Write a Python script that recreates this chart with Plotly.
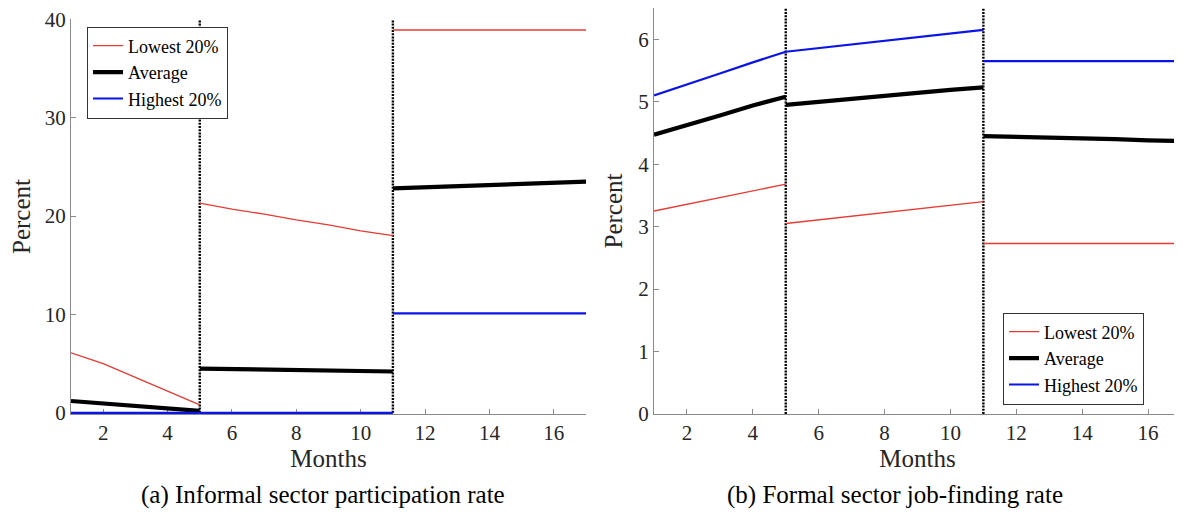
import plotly.graph_objects as go

# ---------------- data ----------------
# Panel (a): Informal sector participation rate
months_seg1 = [1, 2, 3, 4, 5]
months_seg2 = [5, 6, 7, 8, 9, 10, 11]
months_seg3 = [11, 12, 13, 14, 15, 16, 17]
break_months = [5, 11]

low_a1 = [6.1, 5.0, 3.6, 2.2, 0.8]
avg_a1 = [1.2, 0.95, 0.7, 0.45, 0.2]
high_a1 = [0.0, 0.0, 0.0, 0.0, 0.0]
low_a2 = [21.3, 20.7, 20.2, 19.6, 19.1, 18.5, 18.0]
avg_a2 = [4.5, 4.45, 4.4, 4.35, 4.3, 4.25, 4.2]
high_a2 = [0.0, 0.0, 0.0, 0.0, 0.0, 0.0, 0.0]
low_a3 = [38.9, 38.9, 38.9, 38.9, 38.9, 38.9, 38.9]
avg_a3 = [22.8, 22.9, 23.0, 23.1, 23.25, 23.35, 23.5]
high_a3 = [10.1, 10.1, 10.1, 10.1, 10.1, 10.1, 10.1]

# Panel (b): Formal sector job-finding rate
low_b1 = [3.25, 3.36, 3.47, 3.58, 3.68]
avg_b1 = [4.47, 4.62, 4.78, 4.94, 5.08]
high_b1 = [5.1, 5.27, 5.45, 5.63, 5.8]
low_b2 = [3.05, 3.11, 3.17, 3.23, 3.29, 3.35, 3.4]
avg_b2 = [4.95, 5.0, 5.05, 5.1, 5.15, 5.19, 5.23]
high_b2 = [5.8, 5.86, 5.92, 5.98, 6.04, 6.1, 6.15]
low_b3 = [2.73, 2.73, 2.73, 2.73, 2.73, 2.73, 2.73]
avg_b3 = [4.45, 4.44, 4.42, 4.41, 4.40, 4.38, 4.37]
high_b3 = [5.65, 5.65, 5.65, 5.65, 5.65, 5.65, 5.65]

series_names = ["Lowest 20%", "Average", "Highest 20%"]
x_ticks = [2, 4, 6, 8, 10, 12, 14, 16]
y_ticks_a = [0, 10, 20, 30, 40]
y_ticks_b = [0, 1, 2, 3, 4, 5, 6]
captions = ["(a) Informal sector participation rate", "(b) Formal sector job-finding rate"]

# ---------------- styling ----------------
FONT = "Liberation Serif"
TXT = "#262626"
AX = "#8a8a8a"
styles = [
    dict(color="#e83a34", width=1.3),
    dict(color="#000000", width=4.2),
    dict(color="#0a14e6", width=2.2),
]

fig = go.Figure()

panels = [
    ("x", "y", "legend", [(months_seg1, [low_a1, avg_a1, high_a1]),
                          (months_seg2, [low_a2, avg_a2, high_a2]),
                          (months_seg3, [low_a3, avg_a3, high_a3])]),
    ("x2", "y2", "legend2", [(months_seg1, [low_b1, avg_b1, high_b1]),
                             (months_seg2, [low_b2, avg_b2, high_b2]),
                             (months_seg3, [low_b3, avg_b3, high_b3])]),
]

# vertical dotted break lines (drawn first, series on top)
for xa, ya, top in [("x", "y", 40), ("x2", "y2", 6.5)]:
    for b in break_months:
        fig.add_trace(go.Scatter(
            x=[b, b], y=[0, top], mode="lines", xaxis=xa, yaxis=ya,
            line=dict(color="black", width=2.4, dash="2px,1.2px"), showlegend=False,
            hoverinfo="skip",
        ))

for xa, ya, leg, segs in panels:
    for k, name in enumerate(series_names):
        for si, (xs, vals) in enumerate(segs):
            fig.add_trace(go.Scatter(
                x=xs, y=vals[k], mode="lines", name=name,
                line=styles[k], xaxis=xa, yaxis=ya, legend=leg,
                showlegend=(si == 0), legendgroup=leg + name,
            ))

W, H = 1182, 519
OFF = 8  # page body margin in the browser


def px_x(p):
    return (p - OFF) / W


def px_y(p):
    return 1 - (p - OFF) / H


axis_common = dict(
    showline=True, linecolor=AX, linewidth=1, ticks="inside", ticklen=5,
    tickcolor=AX, showgrid=False, zeroline=False, mirror=False, automargin=False,
    layer="below traces", ticklabeloverflow="allow",
    tickfont=dict(family=FONT, size=21, color=TXT),
)
title_font = dict(family=FONT, size=25, color=TXT)
legend_common = dict(
    xanchor="left", yanchor="middle", bgcolor="white", bordercolor="#333333",
    borderwidth=1, font=dict(family=FONT, size=18, color="black"),
    tracegroupgap=0, itemwidth=30,
)

fig.update_layout(
    template="none",
    width=W, height=H,
    margin=dict(l=0, r=0, t=0, b=0, autoexpand=False),
    paper_bgcolor="white", plot_bgcolor="white",
    xaxis=dict(domain=[px_x(71), px_x(586)], range=[1, 17], tickvals=x_ticks, anchor="y",
               title=dict(text="Months", font=title_font, standoff=4), **axis_common),
    yaxis=dict(domain=[px_y(414), px_y(19)], range=[-0.12, 40.02], tickvals=y_ticks_a, anchor="x",
               title=dict(text="Percent", font=title_font, standoff=8), **axis_common),
    xaxis2=dict(domain=[px_x(654), px_x(1181)], range=[1, 17], tickvals=x_ticks, anchor="y2",
                title=dict(text="Months", font=title_font, standoff=4), **axis_common),
    yaxis2=dict(domain=[px_y(414), px_y(8)], range=[0, 6.5], tickvals=y_ticks_b, anchor="x2",
                title=dict(text="Percent", font=title_font, standoff=8), **axis_common),
    legend=dict(x=px_x(87), y=px_y(72.5), **legend_common),
    legend2=dict(x=px_x(1003), y=px_y(358.5), **legend_common),
)

for cap, cx in zip(captions, [px_x(323), px_x(895)]):
    fig.add_annotation(text=cap, x=cx, y=px_y(495), xref="paper", yref="paper",
                       showarrow=False, xanchor="center", yanchor="middle",
                       font=dict(family=FONT, size=25, color="black"))

fig.write_html("out.html")
